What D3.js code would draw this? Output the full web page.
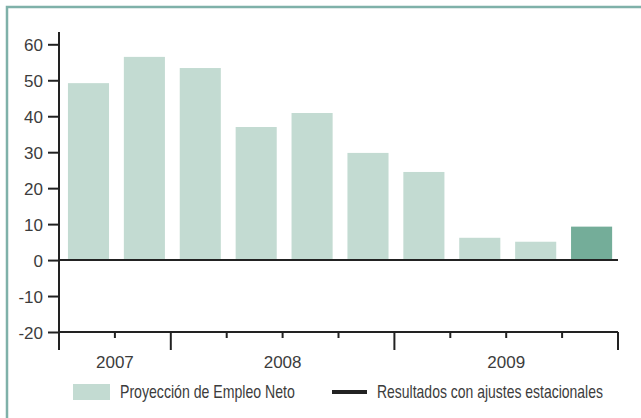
<!DOCTYPE html>
<html>
<head>
<meta charset="utf-8">
<script src="https://cdn.jsdelivr.net/npm/d3@7"></script>
<style>
  html, body { margin: 0; padding: 0; background: #ffffff; }
  svg { display: block; }
</style>
</head>
<body>
<script>
// ---- data ----
const periods = ["2007-T3", "2007-T4", "2008-T1", "2008-T2", "2008-T3", "2008-T4", "2009-T1", "2009-T2", "2009-T3", "2009-T4"];
const values = [49.2, 56.5, 53.4, 37, 40.9, 29.8, 24.5, 6.2, 5.1, 9.3];
const adjusted = [false, false, false, false, false, false, false, false, false, true];
const years = ["2007", "2008", "2009"];
const yearSpans = [[0, 1], [2, 5], [6, 9]];
const yTicks = [-20, -10, 0, 10, 20, 30, 40, 50, 60];
const legendLabels = ["Proyección de Empleo Neto", "Resultados con ajustes estacionales"];

const W = 641, H = 418;
const svg = d3.select("body").append("svg").attr("width", W).attr("height", H);

// frame
svg.append("path").attr("d", `M7,418 V7 H641`).attr("fill", "none")
  .attr("stroke", "#7fb1a9").attr("stroke-width", 2.5);

const x = d3.scaleBand().domain(periods).range([59, 618]).padding(0);
const y = d3.scaleLinear().domain([-20, 60]).range([332, 44.3]);

const axisColor = "#222";
const textColor = "#3c3c3c";
const fontMain = "'Liberation Sans', Arial, Helvetica, sans-serif";

// bars
svg.append("g").selectAll("rect").data(periods).join("rect")
  .attr("x", d => x(d) + x.bandwidth() * 0.16)
  .attr("width", x.bandwidth() * 0.735)
  .attr("y", (d, i) => y(Math.max(0, values[i])))
  .attr("height", (d, i) => Math.abs(y(values[i]) - y(0)))
  .attr("fill", (d, i) => adjusted[i] ? "#74ad99" : "#c3dbd2");

// y axis
const yAxis = d3.axisLeft(y).tickValues(yTicks).tickFormat(d => String(d))
  .tickSize(11).tickPadding(5).tickSizeOuter(0);
const gy = svg.append("g").attr("transform", "translate(59,0)").call(yAxis);
gy.select(".domain").remove();
gy.selectAll(".tick line").attr("stroke", axisColor).attr("stroke-width", 2);
gy.selectAll(".tick text").attr("fill", textColor).attr("font-family", fontMain)
  .attr("font-size", 17).attr("dy", "0.36em");
svg.append("line").attr("x1", 59).attr("x2", 59).attr("y1", 32).attr("y2", 350)
  .attr("stroke", axisColor).attr("stroke-width", 2);

// zero line
svg.append("line").attr("x1", 59).attr("x2", x.range()[1]).attr("y1", y(0)).attr("y2", y(0))
  .attr("stroke", axisColor).attr("stroke-width", 2);

// bottom axis line
svg.append("line").attr("x1", 59).attr("x2", x.range()[1]).attr("y1", y(-20)).attr("y2", y(-20))
  .attr("stroke", axisColor).attr("stroke-width", 2);

// boundary ticks
const boundaries = periods.map(p => x(p)).concat([x.range()[1]]);
const longIdx = new Set([0, 2, 6, 10]);
svg.append("g").selectAll("line").data(boundaries).join("line")
  .attr("x1", d => d).attr("x2", d => d)
  .attr("y1", y(-20))
  .attr("y2", (d, i) => y(-20) + (longIdx.has(i) ? 18 : 6))
  .attr("stroke", axisColor).attr("stroke-width", 2);

// year labels
svg.append("g").selectAll("text").data(years).join("text")
  .attr("x", (d, i) => (x(periods[yearSpans[i][0]]) + x(periods[yearSpans[i][1]]) + x.bandwidth()) / 2)
  .attr("y", 368)
  .attr("text-anchor", "middle")
  .attr("fill", textColor).attr("font-family", fontMain).attr("font-size", 17)
  .text(d => d);

// legend (condensed text via horizontal scaling)
function narrowText(g, tx, ty, label, targetWidth) {
  const t = g.append("text").attr("x", 0).attr("y", 0).attr("fill", textColor)
    .attr("font-family", fontMain).attr("font-size", 18).text(label);
  const natural = t.node().getComputedTextLength();
  const s = targetWidth / natural;
  t.attr("transform", `translate(${tx},${ty}) scale(${s},1)`);
}
const lg = svg.append("g");
lg.append("rect").attr("x", 73).attr("y", 384).attr("width", 37).attr("height", 16).attr("fill", "#c3dbd2");
narrowText(lg, 120, 398, legendLabels[0], 175);
lg.append("line").attr("x1", 332).attr("x2", 367).attr("y1", 392).attr("y2", 392)
  .attr("stroke", "#222").attr("stroke-width", 4);
narrowText(lg, 377, 398, legendLabels[1], 226);
</script>
</body>
</html>
